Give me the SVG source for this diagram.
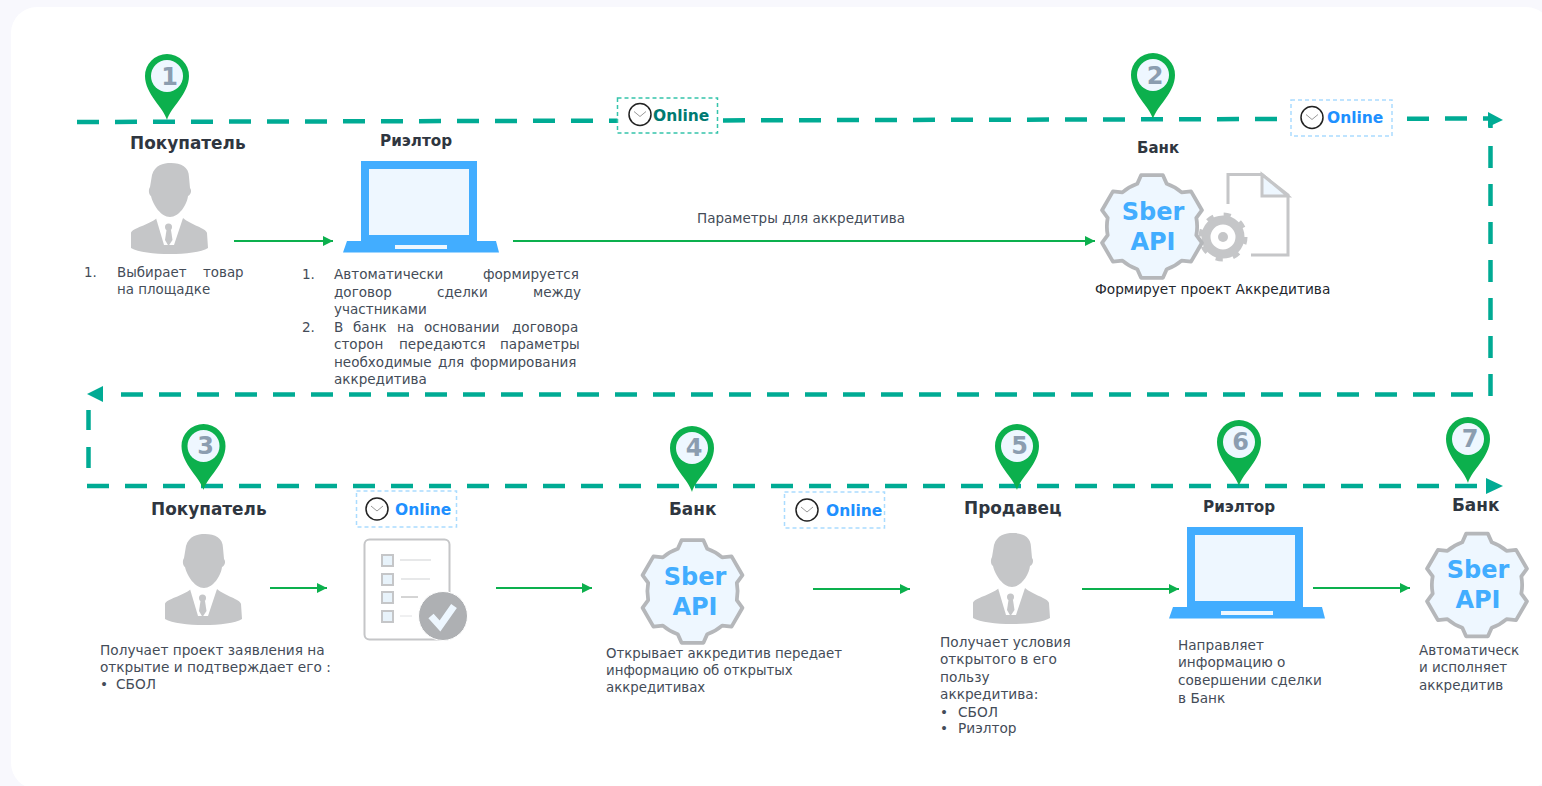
<svg xmlns="http://www.w3.org/2000/svg" xmlns:xlink="http://www.w3.org/1999/xlink" width="1542" height="786" viewBox="0 0 1542 786">
<style>
text{font-family:"DejaVu Sans","Liberation Sans",sans-serif}
.h{font-size:16.900px;font-weight:700;fill:#2f3640}
.t{font-size:13.600px;fill:#444c58}
.k{font-size:13.700px;fill:#22262c}
.d{fill:none;stroke:#00ab94;stroke-width:4.500;stroke-dasharray:22 16}
.dh{fill:#00ab94}
.g{fill:none;stroke:#0cb04d;stroke-width:2;marker-end:url(#ah)}
.pin{fill:#0cb04d}
.pi{fill:#eef7ff}
.pn{font-size:24px;font-weight:700;fill:#8b9db0;text-anchor:middle}
.api{font-size:24px;font-weight:700;fill:#42adff;text-anchor:middle}
.on{font-size:15.500px;font-weight:700;fill:#1e90ff}
.bb{fill:#fff;stroke:#aadcff;stroke-width:1.500;stroke-dasharray:4 3}
.p{fill:#c5c6c8}
</style>
<defs>
<marker id="ah" markerUnits="userSpaceOnUse" markerWidth="11" markerHeight="11" refX="10" refY="5.500" orient="auto"><path d="M0 .5L10 5.500L0 10.500Z" fill="#0cb04d"/></marker>
<g id="pinS"><path class="pin" d="M0 44C-3 32-22 18-22 0A22 22 0 1 1 22 0C22 18 3 32 0 44Z"/><circle class="pi" r="16"/></g>
<g id="person">
<path class="p" d="M6 78C7 73 24 70 32 63L45 68L58 63C66 70 81 73 82 78L83 93C70 101 20 101 6 93Z"/>
<path fill="#fff" d="M31 63L39 90H49L58 63Z"/>
<path class="p" d="M27 20C30 10 38 8 46 8C56 8 64 12 64 22L65 33C67 35 66 40 63 41C62 50 54 62 45 62C36 62 28 50 26 41C24 40 23 35 25 32Z"/>
<circle class="p" cx="43.500" cy="72" r="3.500"/><path class="p" d="M41.500 75H46L47.500 85L43.500 91L40 85Z"/>
</g>
<g id="laptop">
<rect x="361" y="161" width="116" height="82" fill="#42adff"/><rect x="369" y="169" width="100" height="66" fill="#eef7ff"/>
<path d="M347 241H496L499 252.500H343Z" fill="#42adff"/><rect x="395" y="245" width="52" height="4" fill="#eef7ff"/>
</g>
<path id="gearS" fill="#eef7ff" stroke="#b5b7ba" stroke-width="3.600" stroke-linejoin="round" d="M-14-40.660L-10.400-48.900H10.400L14-40.660A43 43 0 0 1 28.200-32.450L37.200-33.500L47.600-15.500L42.200-8.200A43 43 0 0 1 42.200 8.200L47.600 15.500L37.200 33.500L28.200 32.450A43 43 0 0 1 14 40.660L10.400 48.900H-10.400L-14 40.660A43 43 0 0 1-28.200 32.450L-37.200 33.500L-47.600 15.500L-42.200 8.200A43 43 0 0 1-42.200-8.200L-47.600-15.500L-37.200-33.500L-28.200-32.450A43 43 0 0 1-14-40.660Z"/>
<g id="clock"><circle r="11" fill="#fff" stroke="#222" stroke-width="1.500"/><path d="M-6-3L0 2L6-3" fill="none" stroke="#999" stroke-width="1"/></g>
</defs>
<rect width="1542" height="786" fill="#f8f8fd"/>
<rect x="11" y="7" width="1541" height="782" rx="26" fill="#fff"/>

<g id="connectors">
<path class="d" d="M77 122L1490 118.500"/>
<path class="dh" d="M1488 112L1503 120L1488 127Z"/>
<path class="d" d="M1490.500 120V128" style="stroke-dasharray:none"/>
<path class="d" d="M1490.500 146V396"/>
<path class="d" d="M1473 394.500H105"/>
<path class="dh" d="M103 386L87 394L103 402Z"/>
<path class="d" d="M88.500 410V430M88.500 447V468" style="stroke-dasharray:none"/>
<path class="d" d="M87 486H1480"/>
<path class="dh" d="M1486 478L1503 486L1486 494Z"/>
<path class="g" d="M234 241H333"/>
<path class="g" d="M513 241H1095"/>
<path class="g" d="M270 588H327"/>
<path class="g" d="M496 588H592"/>
<path class="g" d="M813 589H910"/>
<path class="g" d="M1082 589H1179"/>
<path class="g" d="M1313 588H1410"/>
</g>

<g id="pin-1"><use xlink:href="#pinS" href="#pinS" x="167" y="76"/><text class="pn" x="169.500" y="85">1</text></g>
<g id="pin-2"><use xlink:href="#pinS" href="#pinS" x="1153" y="75"/><text class="pn" x="1155" y="84">2</text></g>
<g id="pin-3"><use xlink:href="#pinS" href="#pinS" x="203.500" y="446"/><text class="pn" x="205.500" y="454">3</text></g>
<g id="pin-4"><use xlink:href="#pinS" href="#pinS" x="692" y="448"/><text class="pn" x="694" y="456">4</text></g>
<g id="pin-5"><use xlink:href="#pinS" href="#pinS" x="1017" y="446"/><text class="pn" x="1019.500" y="454">5</text></g>
<g id="pin-6"><use xlink:href="#pinS" href="#pinS" x="1239" y="442"/><text class="pn" x="1240.500" y="450">6</text></g>
<g id="pin-7"><use xlink:href="#pinS" href="#pinS" x="1468" y="439"/><text class="pn" x="1470" y="447">7</text></g>

<g id="online-1"><rect x="617.500" y="98" width="100" height="35" fill="#fff" stroke="#35c4ab" stroke-width="1.500" stroke-dasharray="4 3"/><use xlink:href="#clock" href="#clock" x="640" y="114.500"/><text class="on" style="fill:#007a72" x="653" y="121">Online</text></g>
<g id="online-2"><rect class="bb" x="1291" y="100" width="101" height="36"/><use xlink:href="#clock" href="#clock" x="1312" y="117.500"/><text class="on" x="1327" y="123">Online</text></g>
<g id="online-3"><rect class="bb" x="356.500" y="491" width="100" height="36"/><use xlink:href="#clock" href="#clock" x="377" y="509"/><text class="on" x="395" y="515">Online</text></g>
<g id="online-4"><rect class="bb" x="784.500" y="492" width="100" height="36"/><use xlink:href="#clock" href="#clock" x="807" y="510"/><text class="on" x="826" y="516">Online</text></g>

<g id="buyer-1">
<text class="h" x="130" y="149">Покупатель</text>
<use xlink:href="#person" href="#person" x="125" y="155"/>
<text class="t" style="font-size:13.400px"><tspan x="84" y="277">1.</tspan><tspan x="117" y="277">Выбирает</tspan><tspan x="203" y="277">товар</tspan><tspan x="117" y="294">на площадке</tspan></text>
</g>
<g id="realtor-1">
<text class="h" style="font-size:15.200px" x="380" y="146">Риэлтор</text>
<use xlink:href="#laptop" href="#laptop"/>
<text class="t" style="font-size:13.550px"><tspan x="302" y="279">1.</tspan><tspan x="334" y="279">Автоматически</tspan><tspan x="483" y="279">формируется</tspan><tspan x="334" y="297">договор</tspan><tspan x="437" y="297">сделки</tspan><tspan x="533" y="297">между</tspan><tspan x="334" y="314">участниками</tspan><tspan x="302" y="332">2.</tspan><tspan x="334" y="332">В</tspan><tspan x="353" y="332">банк</tspan><tspan x="397" y="332">на</tspan><tspan x="424" y="332">основании</tspan><tspan x="512" y="332">договора</tspan><tspan x="334" y="349">сторон</tspan><tspan x="399" y="349">передаются</tspan><tspan x="500" y="349">параметры</tspan><tspan x="334" y="367">необходимые</tspan><tspan x="438" y="367">для</tspan><tspan x="470" y="367">формирования</tspan><tspan x="334" y="384">аккредитива</tspan></text>
</g>
<g id="label-params"><text class="t" style="font-size:13.500px" x="697" y="223">Параметры для аккредитива</text></g>
<g id="bank-1">
<text class="h" style="font-size:15px" x="1137" y="153">Банк</text>
<path d="M1228 204V174.500H1262L1288 195V255H1251" fill="#fff" stroke="#c5c6c8" stroke-width="3"/>
<path d="M1262 174.500V196H1288Z" fill="#eef7ff" stroke="#c5c6c8" stroke-width="3"/>
<circle cx="1223" cy="237" r="17" fill="none" stroke="#c5c6c8" stroke-width="9"/>
<circle cx="1223" cy="237" r="22" fill="none" stroke="#c5c6c8" stroke-width="5" stroke-dasharray="7 10.280"/>
<circle cx="1223" cy="237" r="5" fill="#c5c6c8"/>
<use xlink:href="#gearS" href="#gearS" transform="translate(1152 226.500) scale(1.050)"/>
<text class="api" x="1153" y="220">Sber</text><text class="api" x="1153" y="250">API</text>
<text class="k" x="1095" y="294">Формирует проект Аккредитива</text>
</g>

<g id="buyer-2">
<text class="h" x="151" y="515">Покупатель</text>
<use xlink:href="#person" href="#person" x="159" y="526"/>
<text class="t" style="font-size:13.700px"><tspan x="100" y="655">Получает проект заявления на</tspan><tspan x="100" y="672">открытие и подтверждает его :</tspan><tspan x="100" y="689">•</tspan><tspan x="116" y="689">СБОЛ</tspan></text>
</g>
<g id="checklist">
<rect x="364.500" y="539.500" width="85" height="100" rx="5" fill="#fff" stroke="#c5c6c8" stroke-width="2"/>
<g fill="#e8f3fb" stroke="#c5c6c8" stroke-width="2"><rect x="382" y="555" width="11" height="11"/><rect x="382" y="574" width="11" height="11"/><rect x="382" y="592" width="11" height="11"/><rect x="382" y="611" width="11" height="11"/></g>
<path d="M400 560H431M401 579H430" stroke="#cfd1d3" stroke-width="1"/><path d="M401 597H418" stroke="#aaa" stroke-width="1"/><path d="M400 616H412" stroke="#e0e1e3" stroke-width="1"/>
<circle cx="443" cy="616" r="24.500" fill="#aeb0b3" stroke="#fff" stroke-width="1"/>
<path d="M431 616L440 626L454 606" fill="none" stroke="#eef7ff" stroke-width="7"/>
</g>
<g id="bank-2">
<text class="h" x="669" y="515">Банк</text>
<use xlink:href="#gearS" href="#gearS" transform="translate(692.500 591.500) scale(1.050)"/>
<text class="api" x="695" y="585">Sber</text><text class="api" x="695" y="615">API</text>
<text class="t" style="font-size:13.350px"><tspan x="606" y="658">Открывает аккредитив передает</tspan><tspan x="606" y="675">информацию об открытых</tspan><tspan x="606" y="692">аккредитивах</tspan></text>
</g>
<g id="seller">
<text class="h" x="964" y="514">Продавец</text>
<use xlink:href="#person" href="#person" x="967" y="525"/>
<text class="t" style="font-size:13.700px"><tspan x="940" y="647">Получает условия</tspan><tspan x="940" y="664">открытого в его</tspan><tspan x="940" y="682">пользу</tspan><tspan x="940" y="699">аккредитива:</tspan><tspan x="940" y="717">•</tspan><tspan x="958" y="717">СБОЛ</tspan><tspan x="940" y="733">•</tspan><tspan x="958" y="733">Риэлтор</tspan></text>
</g>
<g id="realtor-2">
<text class="h" style="font-size:15.200px" x="1203" y="512">Риэлтор</text>
<use xlink:href="#laptop" href="#laptop" x="826" y="366"/>
<text class="t" style="font-size:13.650px"><tspan x="1178" y="650">Направляет</tspan><tspan x="1178" y="667">информацию о</tspan><tspan x="1178" y="685">совершении сделки</tspan><tspan x="1178" y="703">в Банк</tspan></text>
</g>
<g id="bank-3">
<text class="h" x="1452" y="511">Банк</text>
<use xlink:href="#gearS" href="#gearS" transform="translate(1477 585) scale(1.050)"/>
<text class="api" x="1478" y="578">Sber</text><text class="api" x="1478" y="608">API</text>
<text class="t" style="font-size:13.500px"><tspan x="1419" y="655">Автоматическ</tspan><tspan x="1419" y="672">и исполняет</tspan><tspan x="1419" y="690">аккредитив</tspan></text>
</g>
</svg>
